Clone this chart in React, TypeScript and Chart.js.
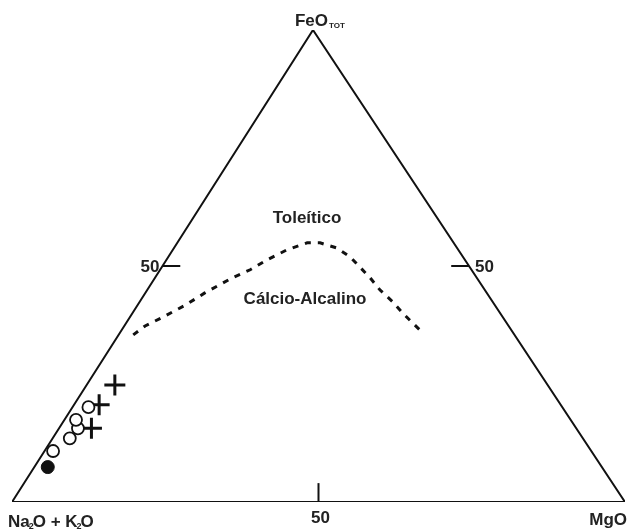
import React, { useEffect, useRef } from "react";
import { Chart, registerables } from "chart.js";

Chart.register(...registerables);

// Ternary data (FeO_tot, MgO) in %; Na2O+K2O = 100 - FeO - MgO
const groupCircleFeO = [10.8, 13.5, 15.6, 17.4, 20.1];
const groupCircleMgO = [1.4, 2.8, 3.1, 1.9, 2.6];
const groupFilledFeO = [7.4];
const groupFilledMgO = [2.2];
const groupCrossFeO = [15.6, 20.6, 24.8];
const groupCrossMgO = [5.3, 4.1, 4.6];

// Irvine & Baragar boundary (tholeiitic / calc-alkaline)
const boundaryFeO = [35.4, 37.3, 39.2, 41.7, 44.3, 47.5, 49.2, 51.3, 53.4, 54.9, 54.9, 53.8, 51.9, 47.5, 44.9, 42.4, 40.0, 36.4];
const boundaryMgO = [2.4, 3.4, 5.4, 7.8, 9.7, 12.6, 14.7, 16.4, 18.6, 21.2, 23.3, 26.6, 29.7, 35.1, 38.0, 41.3, 44.1, 48.7];

const tickValue = 50;
const tickLabels = ["50", "50", "50"];
const APEX_X = 49.1; // horizontal position of the FeO apex along the base (drawing skew)

function toXY(feo: number, mgo: number) {
  return { x: mgo + (feo * APEX_X) / 100, y: feo };
}

function pts(feo: number[], mgo: number[]) {
  return feo.map((f, i) => toXY(f, mgo[i]));
}

export default function App() {
  const ref = useRef<HTMLCanvasElement | null>(null);

  useEffect(() => {
    document.body.style.margin = "0";
    const canvas = ref.current;
    if (!canvas) return;

    const triangle = [toXY(0, 0), toXY(0, 100), toXY(100, 0), toXY(0, 0)];
    const leftEdge = toXY(tickValue, 0);
    const rightEdge = toXY(tickValue, 100 - tickValue);
    const tickLen = 2.9;
    const tickLeft = [leftEdge, { x: leftEdge.x + tickLen, y: leftEdge.y }];
    const tickRight = [{ x: rightEdge.x - tickLen, y: rightEdge.y }, rightEdge];
    const bottomPt = toXY(0, tickValue);
    const tickBottom = [bottomPt, { x: bottomPt.x, y: 4 }];

    const lineDs = (data: any[], extra: any = {}) => ({
      type: "line" as const,
      data,
      borderColor: "#111",
      borderWidth: 2,
      pointRadius: 0,
      fill: false,
      tension: 0,
      ...extra,
    });

    const textColor = "#222";
    const font = "bold 17px 'Liberation Sans', Arial, sans-serif";
    const labelsPlugin = {
      id: "labels",
      afterDraw(chart: any) {
        const ctx = chart.ctx as CanvasRenderingContext2D;
        const xs = chart.scales.x;
        const ys = chart.scales.y;
        ctx.save();
        ctx.fillStyle = textColor;
        ctx.textBaseline = "alphabetic";
        ctx.font = font;

        // apex label
        const apex = toXY(100, 0);
        const ax = xs.getPixelForValue(apex.x);
        const ay = ys.getPixelForValue(apex.y);
        ctx.textAlign = "left";
        ctx.fillText("FeO", ax - 18, ay - 4);
        const feoW = ctx.measureText("FeO").width;
        ctx.font = "bold 8px 'Liberation Sans', Arial, sans-serif";
        ctx.fillText("TOT", ax - 18 + feoW + 1, ay - 2);

        // tick labels
        ctx.font = font;
        ctx.textAlign = "right";
        ctx.fillText(tickLabels[0], xs.getPixelForValue(leftEdge.x) - 3, ys.getPixelForValue(leftEdge.y) + 6);
        ctx.textAlign = "left";
        ctx.fillText(tickLabels[1], xs.getPixelForValue(rightEdge.x) + 6, ys.getPixelForValue(rightEdge.y) + 6);
        ctx.textAlign = "center";
        ctx.fillText(tickLabels[2], xs.getPixelForValue(bottomPt.x) + 2, ys.getPixelForValue(0) + 21);

        // field labels
        ctx.fillText("Toleítico", 307, 223);
        ctx.fillText("Cálcio-Alcalino", 305, 304);

        // corner labels
        const by = ys.getPixelForValue(0) + 25;
        ctx.textAlign = "left";
        let cx = 8;
        const parts: [string, boolean][] = [["Na", false], ["2", true], ["O + K", false], ["2", true], ["O", false]];
        for (const [t, sub] of parts) {
          if (sub) {
            ctx.font = "bold 9px 'Liberation Sans', Arial, sans-serif";
            ctx.fillText(t, cx - 1, by + 2);
            cx += ctx.measureText(t).width - 2;
          } else {
            ctx.font = font;
            ctx.fillText(t, cx, by);
            cx += ctx.measureText(t).width;
          }
        }
        ctx.font = font;
        ctx.textAlign = "right";
        ctx.fillText("MgO", 627, by - 2);
        ctx.restore();
      },
    };

    const chart = new Chart(canvas, {
      type: "scatter",
      data: {
        datasets: [
          lineDs(triangle),
          lineDs(tickLeft),
          lineDs(tickRight),
          lineDs(tickBottom),
          lineDs(pts(boundaryFeO, boundaryMgO), { borderWidth: 3, borderDash: [6, 7] }),
          {
            type: "scatter" as const,
            data: pts(groupCircleFeO, groupCircleMgO),
            pointStyle: "circle",
            pointRadius: 6,
            pointBorderWidth: 1.8,
            pointBackgroundColor: "#fff",
            pointBorderColor: "#111",
          },
          {
            type: "scatter" as const,
            data: pts(groupFilledFeO, groupFilledMgO),
            pointStyle: "circle",
            pointRadius: 6.5,
            pointBorderWidth: 1,
            pointBackgroundColor: "#111",
            pointBorderColor: "#111",
          },
          {
            type: "scatter" as const,
            data: pts(groupCrossFeO, groupCrossMgO),
            pointStyle: "cross",
            pointRadius: 10.5,
            pointBorderWidth: 3,
            pointBorderColor: "#111",
          },
        ] as any,
      },
      options: {
        animation: false,
        responsive: false,
        devicePixelRatio: 1,
        layout: { autoPadding: false, padding: { left: 12, right: 4, top: 30, bottom: 29 } },
        plugins: { legend: { display: false }, tooltip: { enabled: false } },
        scales: {
          x: { type: "linear", min: 0, max: 100, display: false },
          y: { type: "linear", min: 0, max: 100, display: false },
        },
      },
      plugins: [labelsPlugin],
    });

    return () => chart.destroy();
  }, []);

  return (
    <div style={{ width: 629, height: 531, background: "#fff" }}>
      <canvas ref={ref} width={629} height={531} style={{ display: "block" }} />
    </div>
  );
}
